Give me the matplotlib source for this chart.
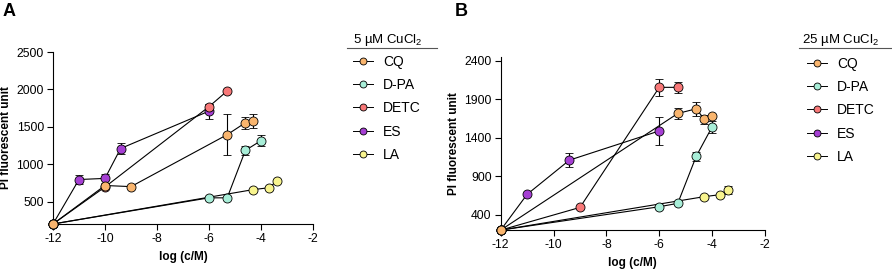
import matplotlib
matplotlib.use("Agg")
import matplotlib.pyplot as plt
from matplotlib.lines import Line2D

plt.rcParams['font.family'] = ['Liberation Sans', 'DejaVu Sans']
plt.rcParams['mathtext.fontset'] = 'custom'
plt.rcParams['mathtext.rm'] = 'Liberation Sans'
plt.rcParams['mathtext.it'] = 'Liberation Sans:italic'
plt.rcParams['axes.unicode_minus'] = False

names = ["CQ", "D-PA", "DETC", "ES", "LA"]
colors = {"CQ": "#F9B56E", "D-PA": "#A8EED8", "DETC": "#F87878",
          "ES": "#A53FD3", "LA": "#F8F48E"}

# Panel A, 5 uM CuCl2
a_x = {
    "ES":   [-12, -11, -10, -9.4, -6],
    "DETC": [-12, -10, -6, -5.3],
    "LA":   [-12, -4.3, -3.7, -3.4],
    "D-PA": [-12, -6, -5.3, -4.6, -4],
    "CQ":   [-12, -10, -9, -5.3, -4.6, -4.3],
}
a_y = {
    "ES":   [200, 795, 810, 1210, 1710],
    "DETC": [200, 695, 1770, 1980],
    "LA":   [200, 660, 685, 770],
    "D-PA": [200, 550, 550, 1185, 1315],
    "CQ":   [200, 715, 700, 1395, 1555, 1575],
}
a_err = {
    "ES":   [0, 55, 60, 70, 100],
    "DETC": [0, 0, 40, 0],
    "LA":   [0, 0, 0, 0],
    "D-PA": [0, 0, 0, 60, 75],
    "CQ":   [0, 0, 0, 270, 80, 95],
}

# Panel B, 25 uM CuCl2
b_x = {
    "ES":   [-12, -11, -9.4, -6],
    "DETC": [-12, -9, -6, -5.3],
    "LA":   [-12, -4.3, -3.7, -3.4],
    "D-PA": [-12, -6, -5.3, -4.6, -4],
    "CQ":   [-12, -5.3, -4.6, -4.3, -4],
}
b_y = {
    "ES":   [200, 665, 1110, 1490],
    "DETC": [200, 495, 2057, 2057],
    "LA":   [200, 635, 661, 722],
    "D-PA": [200, 504, 548, 1161, 1543],
    "CQ":   [200, 1717, 1778, 1643, 1683],
}
b_err = {
    "ES":   [0, 0, 90, 180],
    "DETC": [0, 0, 110, 75],
    "LA":   [0, 0, 0, 50],
    "D-PA": [0, 0, 0, 60, 80],
    "CQ":   [0, 70, 90, 60, 0],
}

draw_order = ["ES", "DETC", "LA", "D-PA", "CQ"]

W, H = 892, 272
fig = plt.figure(figsize=(W / 100, H / 100), dpi=100)
axA = fig.add_axes([0.0594, 0.1765, 0.2915, 0.632])
axB = fig.add_axes([0.5613, 0.154, 0.2963, 0.636])


def draw_panel(ax, xs, ys, errs, ylim, yticks, title, leg_x, leg_y,
               title_x, line_x0, line_x1):
    for z, name in enumerate(draw_order):
        ax.errorbar(xs[name], ys[name], yerr=errs[name], color="black",
                    lw=0.8, elinewidth=0.8, capsize=3, capthick=0.8,
                    marker="o", ms=6.5, mfc=colors[name], mec="black",
                    mew=0.6, zorder=3 + z, clip_on=False)
    ax.set_xlim(-12, -2)
    ax.set_ylim(*ylim)
    ax.set_xticks([-12, -10, -8, -6, -4, -2])
    ax.set_yticks(yticks)
    ax.spines["top"].set_visible(False)
    ax.spines["right"].set_visible(False)
    for s in ["left", "bottom"]:
        ax.spines[s].set_linewidth(0.8)
    ax.tick_params(labelsize=8.7, width=0.8, length=4.5, pad=2)
    ax.set_xlabel("log (c/M)", fontsize=8.5, fontweight="bold", labelpad=4)
    ax.set_ylabel("PI fluorescent unit", fontsize=8.5, fontweight="bold",
                  labelpad=3)
    handles = [Line2D([0], [0], color="black", lw=0.7, marker="o", ms=5,
                      mfc=colors[n], mec="black", mew=0.6) for n in names]
    fig.legend(handles, names, frameon=False, loc="upper left",
               bbox_to_anchor=(leg_x / W, 1 - leg_y / H),
               borderpad=0, borderaxespad=0,
               fontsize=10, handlelength=1.45, handletextpad=0.7,
               labelspacing=0.66)
    fig.text(title_x / W, 1 - 40 / H, title, fontsize=9.5, va="center")
    fig.add_artist(Line2D([line_x0 / W, line_x1 / W],
                          [1 - 48 / H, 1 - 48 / H], color="#555555", lw=0.8))


draw_panel(axA, a_x, a_y, a_err, (200, 2500),
           [500, 1000, 1500, 2000, 2500], "5 µM CuCl$_2$",
           353, 55, 353, 347, 437)
draw_panel(axB, b_x, b_y, b_err, (200, 2450),
           [400, 900, 1400, 1900, 2400], "25 µM CuCl$_2$",
           807, 57, 802, 799, 891)

fig.text(3 / W, 1 - 12 / H, "A", fontsize=13, fontweight="bold", va="center")
fig.text(455 / W, 1 - 12 / H, "B", fontsize=13, fontweight="bold", va="center")

fig.savefig("out.png", dpi=100)
